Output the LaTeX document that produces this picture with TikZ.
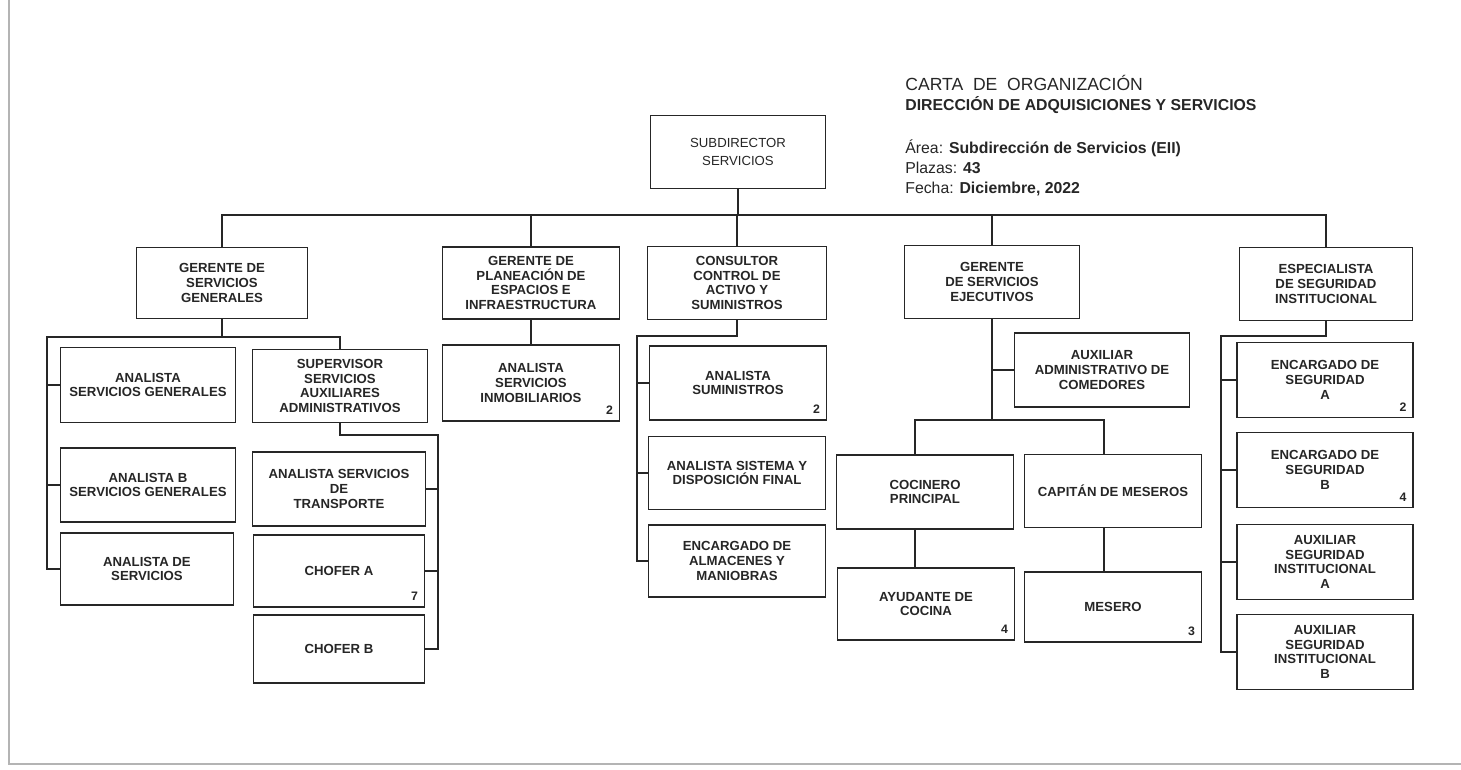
\documentclass[tikz,border=0pt]{standalone}
\usepackage{fontspec}
\setmainfont{Liberation Sans}
\usetikzlibrary{positioning, calc}
\definecolor{lineGray}{HTML}{262626}
\definecolor{frameGray}{HTML}{B4B4B4}

\begin{document}
\begin{tikzpicture}[
    x=0.02cm, y=-0.02cm,
    % Position Box Style
    post/.style={
        rectangle,
        draw=lineGray,
        line width=1pt,
        fill=white,
        minimum width=3.5cm,
        minimum height=1.47cm,
        align=center,
        inner sep=2pt,
        text=lineGray,
        font=\fontsize{7.5}{8.4}\selectfont\bfseries
    },
    % Head Box (lighter text)
    head/.style={
        post,
        font=\fontsize{7.5}{10}\selectfont
    },
    % Vacancy Counter (bottom right of a box)
    count/.style={
        anchor=south east,
        inner sep=4pt,
        text=lineGray,
        font=\fontsize{7}{8}\selectfont\bfseries
    },
    % Connecting Lines
    line/.style={
        draw=lineGray,
        line width=0.7pt
    },
    % Header Text
    title/.style={
        anchor=base west,
        inner sep=0pt,
        text=lineGray
    }
]
\useasboundingbox (0,0) rectangle (1461,769);

% --- PAGE FRAME ---
\draw[frameGray, line width=0.8pt] (9,0) -- (9,764) -- (1461,764);

% --- HEADER ---
\node[title, font=\fontsize{10}{12}\selectfont] (ChartTitle) at (905,90) {CARTA~ DE~ ORGANIZACIÓN};
\node[title, font=\fontsize{9}{11}\selectfont\bfseries] (ChartDept) at (905,110) {DIRECCIÓN DE ADQUISICIONES Y SERVICIOS};
\node[title, font=\fontsize{9}{11}\selectfont] (ChartArea) at (905,153) {Área: \textbf{Subdirección de Servicios (EII)}};
\node[title, font=\fontsize{9}{11}\selectfont] (ChartPlazas) at (905,173) {Plazas: \textbf{43}};
\node[title, font=\fontsize{9}{11}\selectfont] (ChartFecha) at (905,193) {Fecha: \textbf{Diciembre, 2022}};

% --- TOP NODE ---
\node[head, minimum height=1.46cm] (Subdirector) at (738,152) {SUBDIRECTOR\\SERVICIOS};

% --- LEVEL 1 ---
\node[post, minimum width=3.42cm, minimum height=1.42cm] (GerenteGenerales) at (222,283) {GERENTE DE\\SERVICIOS\\GENERALES};
\node[post, minimum width=3.54cm, minimum height=1.44cm] (GerentePlaneacion) at (531,283) {GERENTE DE\\PLANEACIÓN DE\\ESPACIOS E\\INFRAESTRUCTURA};
\node[post, minimum width=3.58cm, minimum height=1.46cm] (ConsultorControl) at (737,283) {CONSULTOR\\CONTROL DE\\ACTIVO Y\\SUMINISTROS};
\node[post, minimum height=1.46cm] (GerenteEjecutivos) at (992,282) {GERENTE\\DE SERVICIOS\\EJECUTIVOS};
\node[post, minimum width=3.46cm, minimum height=1.46cm] (EspecialistaSeguridad) at (1326,284) {ESPECIALISTA\\DE SEGURIDAD\\INSTITUCIONAL};

% --- BRANCH 1: SERVICIOS GENERALES ---
\node[post, minimum height=1.5cm] (AnalistaGenerales) at (148,385) {ANALISTA\\SERVICIOS GENERALES};
\node[post, minimum height=1.48cm] (AnalistaBGenerales) at (148,485) {ANALISTA B\\SERVICIOS GENERALES};
\node[post, minimum width=3.46cm, minimum height=1.44cm] (AnalistaServicios) at (147,569) {ANALISTA DE\\SERVICIOS};
\node[post, minimum height=1.46cm] (SupervisorAuxiliares) at (340,386) {SUPERVISOR\\SERVICIOS\\AUXILIARES\\ADMINISTRATIVOS};
\node[post, minimum width=3.46cm, minimum height=1.48cm] (AnalistaTransporte) at (339,489) {ANALISTA SERVICIOS\\DE\\TRANSPORTE};
\node[post, minimum width=3.42cm, minimum height=1.44cm] (ChoferA) at (339,571) {CHOFER A};
\node[count] (ChoferACount) at (ChoferA.south east) {7};
\node[post, minimum width=3.42cm, minimum height=1.36cm] (ChoferB) at (339,649) {CHOFER B};

% --- BRANCH 2: PLANEACION ---
\node[post, minimum width=3.54cm, minimum height=1.52cm] (AnalistaInmobiliarios) at (531,383) {ANALISTA\\SERVICIOS\\INMOBILIARIOS};
\node[count] (InmobiliariosCount) at (AnalistaInmobiliarios.south east) {2};

% --- BRANCH 3: CONTROL DE ACTIVO ---
\node[post, minimum width=3.54cm, minimum height=1.48cm] (AnalistaSuministros) at (738,383) {ANALISTA\\SUMINISTROS};
\node[count] (SuministrosCount) at (AnalistaSuministros.south east) {2};
\node[post, minimum width=3.54cm, minimum height=1.46cm] (AnalistaDisposicion) at (737,473) {ANALISTA SISTEMA Y\\DISPOSICIÓN FINAL};
\node[post, minimum width=3.54cm, minimum height=1.44cm] (EncargadoAlmacenes) at (737,561) {ENCARGADO DE\\ALMACENES Y\\MANIOBRAS};

% --- BRANCH 4: SERVICIOS EJECUTIVOS ---
\node[post, minimum height=1.48cm] (AuxiliarComedores) at (1102,370) {AUXILIAR\\ADMINISTRATIVO DE\\COMEDORES};
\node[post, minimum width=3.54cm, minimum height=1.48cm] (CocineroPrincipal) at (925,492) {COCINERO\\PRINCIPAL};
\node[post, minimum width=3.54cm, minimum height=1.46cm] (CapitanMeseros) at (1113,491) {CAPITÁN DE MESEROS};
\node[post, minimum width=3.54cm, minimum height=1.44cm] (AyudanteCocina) at (926,604) {AYUDANTE DE\\COCINA};
\node[count] (AyudanteCount) at (AyudanteCocina.south east) {4};
\node[post, minimum width=3.54cm, minimum height=1.4cm] (Mesero) at (1113,607) {MESERO};
\node[count] (MeseroCount) at (Mesero.south east) {3};

% --- BRANCH 5: SEGURIDAD INSTITUCIONAL ---
\node[post, minimum width=3.52cm, minimum height=1.5cm] (EncargadoSegA) at (1325,380) {ENCARGADO DE\\SEGURIDAD\\A};
\node[count] (EncargadoSegACount) at (EncargadoSegA.south east) {2};
\node[post, minimum width=3.52cm, minimum height=1.5cm] (EncargadoSegB) at (1325,470) {ENCARGADO DE\\SEGURIDAD\\B};
\node[count] (EncargadoSegBCount) at (EncargadoSegB.south east) {4};
\node[post, minimum width=3.52cm, minimum height=1.5cm] (AuxiliarSegA) at (1325,562) {AUXILIAR\\SEGURIDAD\\INSTITUCIONAL\\A};
\node[post, minimum width=3.52cm, minimum height=1.5cm] (AuxiliarSegB) at (1325,652) {AUXILIAR\\SEGURIDAD\\INSTITUCIONAL\\B};

% --- CONNECTIONS ---
% Main bus under the Subdirector
\coordinate (MainBus) at (0,215);
\draw[line] (Subdirector.south) -- (Subdirector.south |- MainBus);
\draw[line] (GerenteGenerales.north) -- (GerenteGenerales.north |- MainBus) -- (EspecialistaSeguridad.north |- MainBus) -- (EspecialistaSeguridad.north);
\foreach \n in {GerentePlaneacion, ConsultorControl, GerenteEjecutivos}
    \draw[line] (\n.north) -- (\n.north |- MainBus);

% Servicios generales
\coordinate (GeneralesBus) at (47,337);
\draw[line] (GerenteGenerales.south) -- (GerenteGenerales.south |- GeneralesBus);
\draw[line] (SupervisorAuxiliares.north) |- (GeneralesBus) -- (GeneralesBus |- AnalistaServicios.west) -- (AnalistaServicios.west);
\foreach \n in {AnalistaGenerales, AnalistaBGenerales}
    \draw[line] (GeneralesBus |- \n.west) -- (\n.west);

% Supervisor to transport staff
\coordinate (TransporteBus) at (438,435);
\draw[line] (SupervisorAuxiliares.south) |- (TransporteBus) -- (TransporteBus |- ChoferB.east) -- (ChoferB.east);
\foreach \n in {AnalistaTransporte, ChoferA}
    \draw[line] (TransporteBus |- \n.east) -- (\n.east);

% Planeacion
\draw[line] (GerentePlaneacion.south) -- (AnalistaInmobiliarios.north);

% Control de activo
\coordinate (ActivoBus) at (637,336);
\draw[line] (ConsultorControl.south) |- (ActivoBus) -- (ActivoBus |- EncargadoAlmacenes.west) -- (EncargadoAlmacenes.west);
\foreach \n in {AnalistaSuministros, AnalistaDisposicion}
    \draw[line] (ActivoBus |- \n.west) -- (\n.west);

% Servicios ejecutivos
\coordinate (CocinaLeft) at (915,420);
\coordinate (CocinaRight) at (1104,420);
\draw[line] (GerenteEjecutivos.south) -- (GerenteEjecutivos.south |- CocinaLeft);
\draw[line] (GerenteEjecutivos.south |- AuxiliarComedores.west) -- (AuxiliarComedores.west);
\draw[line] (CocinaLeft |- CocineroPrincipal.north) -- (CocinaLeft) -- (CocinaRight) -- (CocinaRight |- CapitanMeseros.north);
\draw[line] (CocinaLeft |- CocineroPrincipal.south) -- (CocinaLeft |- AyudanteCocina.north);
\draw[line] (CocinaRight |- CapitanMeseros.south) -- (CocinaRight |- Mesero.north);

% Seguridad institucional
\coordinate (SeguridadBus) at (1221,336);
\draw[line] (EspecialistaSeguridad.south) |- (SeguridadBus) -- (SeguridadBus |- AuxiliarSegB.west) -- (AuxiliarSegB.west);
\foreach \n in {EncargadoSegA, EncargadoSegB, AuxiliarSegA}
    \draw[line] (SeguridadBus |- \n.west) -- (\n.west);

\end{tikzpicture}
\end{document}
